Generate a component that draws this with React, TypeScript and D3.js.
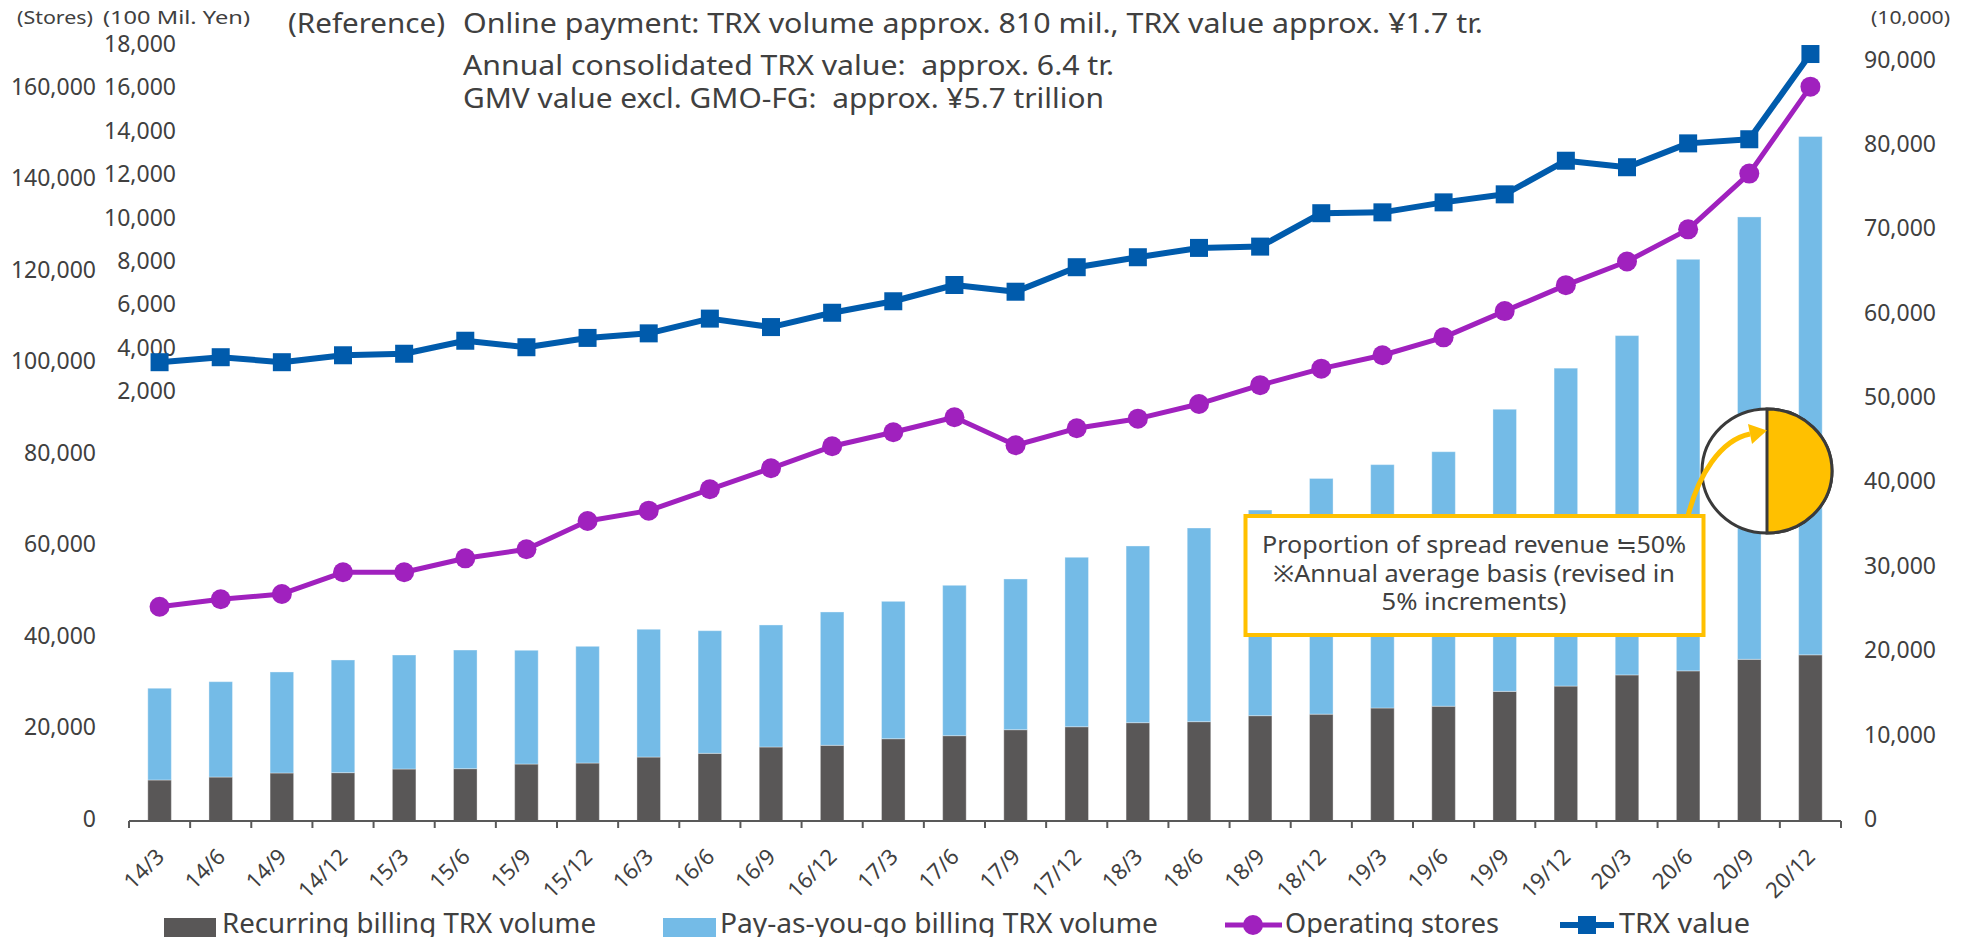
import React from 'react';
import * as d3 from 'd3';

const categories = [
  '14/3', '14/6', '14/9', '14/12', '15/3', '15/6', '15/9', '15/12',
  '16/3', '16/6', '16/9', '16/12', '17/3', '17/6', '17/9', '17/12',
  '18/3', '18/6', '18/9', '18/12', '19/3', '19/6', '19/9', '19/12',
  '20/3', '20/6', '20/9', '20/12',
];

// TRX volume (10,000), right axis
const recurring = [
  4860, 5210, 5690, 5730, 6160, 6200, 6750, 6870, 7580, 8020, 8770, 8970, 9750, 10110,
  10820, 11170, 11650, 11770, 12480, 12660, 13390, 13600, 15360, 15990, 17310, 17790, 19160, 19690,
];
const payAsYouGo = [
  10870, 11300, 11970, 13350, 13510, 14060, 13480, 13830, 15140, 14530, 14460, 15800, 16280, 17820,
  17860, 20080, 20940, 22950, 24370, 27930, 28840, 30160, 33430, 37670, 40210, 48770, 52420, 61420,
];

// Operating stores, first left axis
const stores = [
  46810, 48430, 49590, 54330, 54330, 57380, 59350, 65530, 67790, 72460, 77040, 81850, 84910, 88180,
  82070, 85780, 87880, 91090, 95200, 98800, 101730, 105640, 111380, 117040, 122220, 129230, 141420, 160400,
];

// TRX value (100 Mil. Yen), second left axis
const trxValue = [
  3420, 3650, 3420, 3740, 3810, 4410, 4110, 4540, 4750, 5430, 5040, 5700, 6230, 6980,
  6670, 7800, 8260, 8690, 8750, 10290, 10330, 10790, 11160, 12710, 12410, 13510, 13700, 17630,
];

const storeTicks = d3.range(0, 160001, 20000);
const valueTicks = d3.range(2000, 18001, 2000);
const volumeTicks = d3.range(0, 90001, 10000);

const headerLines = [
  'Online payment: TRX volume approx. 810 mil., TRX value approx. ¥1.7 tr.',
  'Annual consolidated TRX value:  approx. 6.4 tr.',
  'GMV value excl. GMO-FG:  approx. ¥5.7 trillion',
];
const noteLines = [
  'Proportion of spread revenue ≒50%',
  '※Annual average basis (revised in',
  '5% increments)',
];

const FONT = '"Noto Sans", "Noto Sans CJK JP", sans-serif';
const TEXT = '#404040';
const DARK = '#595757';
const LIGHT = '#74BBE7';
const PURPLE = '#A021BE';
const BLUE = '#005BAC';
const YELLOW = '#FFC000';

export default function App() {
  const W = 1966;
  const H = 937;
  const base = 821;

  const x = d3.scaleBand().domain(categories).range([129, 1841]).padding(0);
  const cx = (i: number) => (x(categories[i]) as number) + x.bandwidth() / 2;
  const barW = x.bandwidth() * 0.385;

  const yVol = d3.scaleLinear().domain([0, 90000]).range([base, 61.5]);
  const yStores = d3.scaleLinear().domain([0, 160000]).range([base, 88.5]);
  const yValue = d3.scaleLinear().domain([2000, 18000]).range([393, 46]);

  const fmt = d3.format(',');

  const storesLine = d3
    .line<number>()
    .x((d, i) => cx(i))
    .y(d => yStores(d));
  const valueLine = d3
    .line<number>()
    .x((d, i) => cx(i))
    .y(d => yValue(d));

  const boundaries = d3.range(categories.length + 1).map(i => 129 + i * x.step());

  return (
    <svg
      width={W}
      height={H}
      viewBox={`0 0 ${W} ${H}`}
      style={{ position: 'absolute', left: 0, top: 0, background: '#fff' }}
      fontFamily={FONT}
    >
      {/* axis headers */}
      <text x={17} y={24} fontSize={18} fill={TEXT} textLength={76} lengthAdjust="spacingAndGlyphs">
        (Stores)
      </text>
      <text x={103} y={24} fontSize={18} fill={TEXT} textLength={147} lengthAdjust="spacingAndGlyphs">
        (100 Mil. Yen)
      </text>
      <text x={1871} y={24} fontSize={18} fill={TEXT} textLength={79} lengthAdjust="spacingAndGlyphs">
        (10,000)
      </text>

      {/* header text */}
      <text x={288} y={33} fontSize={28} fill={TEXT} textLength={157} lengthAdjust="spacingAndGlyphs">
        (Reference)
      </text>
      {headerLines.map((t, i) => (
        <text
          key={t}
          x={463}
          y={[33, 75, 108][i]}
          fontSize={27}
          fill={TEXT}
          style={{ whiteSpace: 'pre' }}
          textLength={[1020, 651, 641][i]}
          lengthAdjust="spacingAndGlyphs"
        >
          {t}
        </text>
      ))}

      {/* left axis: stores */}
      <g fontSize={23} fill={TEXT} textAnchor="end">
        {storeTicks.map(t => (
          <text key={t} x={96} y={yStores(t) - 2} dy="0.35em">
            {fmt(t)}
          </text>
        ))}
      </g>
      {/* left axis: TRX value */}
      <g fontSize={23} fill={TEXT} textAnchor="end">
        {valueTicks.map(t => (
          <text key={t} x={176} y={yValue(t) - 2} dy="0.35em">
            {fmt(t)}
          </text>
        ))}
      </g>
      {/* right axis: TRX volume */}
      <g fontSize={23} fill={TEXT} textAnchor="start">
        {volumeTicks.map(t => (
          <text key={t} x={1864} y={yVol(t) - 2} dy="0.35em">
            {fmt(t)}
          </text>
        ))}
      </g>

      {/* stacked bars */}
      <g>
        {categories.map((c, i) => {
          const x0 = cx(i) - barW / 2;
          const r = recurring[i];
          const p = payAsYouGo[i];
          return (
            <g key={c}>
              <rect x={x0} y={yVol(r)} width={barW} height={base - yVol(r)} fill={DARK} stroke="#ffffff" strokeOpacity={0.35} strokeWidth={1} />
              <rect x={x0} y={yVol(r + p)} width={barW} height={yVol(r) - yVol(r + p)} fill={LIGHT} stroke="#ffffff" strokeOpacity={0.35} strokeWidth={1} />
            </g>
          );
        })}
      </g>

      {/* x axis */}
      <g stroke="#595959" strokeWidth={2}>
        <line x1={129} x2={1841} y1={base} y2={base} />
        {boundaries.map(b => (
          <line key={b} x1={b} x2={b} y1={base} y2={base + 7} />
        ))}
      </g>
      <g fontSize={22} fill={TEXT} textAnchor="end">
        {categories.map((c, i) => (
          <text key={c} transform={`translate(${cx(i) + 6},${base + 37}) rotate(-45)`}>
            {c}
          </text>
        ))}
      </g>

      {/* operating stores */}
      <path d={storesLine(stores) as string} fill="none" stroke={PURPLE} strokeWidth={5} strokeLinejoin="round" />
      {stores.map((s, i) => (
        <circle key={i} cx={cx(i)} cy={yStores(s)} r={10} fill={PURPLE} />
      ))}

      {/* TRX value */}
      <path d={valueLine(trxValue) as string} fill="none" stroke={BLUE} strokeWidth={6} strokeLinejoin="round" />
      {trxValue.map((v, i) => (
        <rect key={i} x={cx(i) - 9} y={yValue(v) - 9} width={18} height={18} fill={BLUE} />
      ))}

      {/* spread revenue note */}
      <rect x={1245.5} y={516} width={458} height={119} fill="#fff" stroke={YELLOW} strokeWidth={4} />
      <g fontSize={23} fill={TEXT} textAnchor="middle">
        {noteLines.map((t, i) => (
          <text
            key={t}
            x={1474}
            y={[553, 581.5, 610][i]}
            textLength={[424, 402, 185][i]}
            lengthAdjust="spacingAndGlyphs"
          >
            {t}
          </text>
        ))}
      </g>

      {/* pie */}
      <ellipse cx={1767} cy={471} rx={65} ry={62} fill="#fff" stroke="#3a3a3a" strokeWidth={3} />
      <path d="M1767,409 A65,62 0 0 1 1767,533 Z" fill={YELLOW} stroke="#3a3a3a" strokeWidth={3} />
      <path d="M1688,516 C1698,476 1720,440 1750,434" fill="none" stroke={YELLOW} strokeWidth={5} />
      <polygon points="1767,430.5 1748,424 1752,444" fill={YELLOW} />

      {/* legend */}
      <g fontSize={28} fill={TEXT}>
        <rect x={164} y={918} width={52} height={22} fill={DARK} />
        <text x={222} y={933} textLength={374} lengthAdjust="spacingAndGlyphs">
          Recurring billing TRX volume
        </text>
        <rect x={663} y={918} width={53} height={22} fill={LIGHT} />
        <text x={720} y={933} textLength={438} lengthAdjust="spacingAndGlyphs">
          Pay-as-you-go billing TRX volume
        </text>
        <line x1={1225} x2={1282} y1={925} y2={925} stroke={PURPLE} strokeWidth={5} />
        <circle cx={1253} cy={925} r={10} fill={PURPLE} />
        <text x={1285} y={933} textLength={214} lengthAdjust="spacingAndGlyphs">
          Operating stores
        </text>
        <line x1={1560} x2={1614} y1={925} y2={925} stroke={BLUE} strokeWidth={6} />
        <rect x={1578} y={916} width={18} height={18} fill={BLUE} />
        <text x={1619} y={933} textLength={131} lengthAdjust="spacingAndGlyphs">
          TRX value
        </text>
      </g>
    </svg>
  );
}
